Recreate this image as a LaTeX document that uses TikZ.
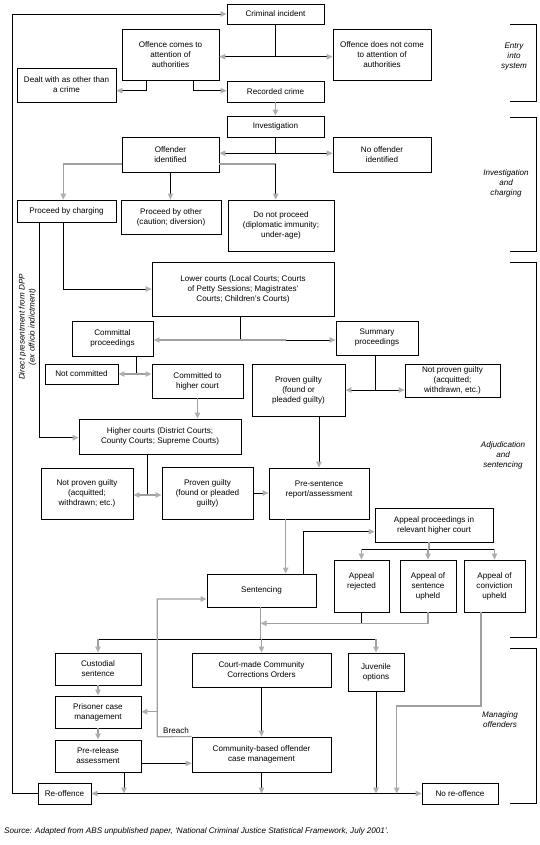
\documentclass[tikz,border=0pt]{standalone}
\usepackage{fontspec}
\setmainfont{Liberation Sans}
\usetikzlibrary{arrows.meta,calc}
\definecolor{gcol}{RGB}{160,160,160}
\definecolor{acol}{RGB}{175,175,175}
\newcommand\mybox[6]{%
  \pgfmathsetmacro\mybxcx{(#2+#4)/2}\pgfmathsetmacro\mybxcy{(#3+#5)/2}%
  \pgfmathsetmacro\mybxw{#4-#2}\pgfmathsetmacro\mybxh{#5-#3}%
  \node[box,minimum width=\mybxw pt,minimum height=\mybxh pt] (#1) at (\mybxcx,\mybxcy) {#6};}
\begin{document}
\begin{tikzpicture}[x=1pt,y=-1pt,
  box/.style={draw=black,line width=0.85pt,align=center,inner sep=0pt,font=\fontsize{8.1}{10}\selectfont},
  ln/.style={draw=black,line width=0.85pt},
  gline/.style={draw=gcol,line width=1.2pt},
  >={Triangle[length=6pt,width=5.5pt,color=acol]},
  side/.style={font=\fontsize{8.1}{10}\selectfont\itshape,align=center,inner sep=0pt},
  lbl/.style={font=\fontsize{8.1}{10}\selectfont,inner sep=0pt}]
\useasboundingbox (0,0) rectangle (539,845);
\fill[white] (0,0) rectangle (539,845);

% ---- nodes ----
\mybox{ci}{227}{4}{324}{24}{Criminal incident}
\mybox{oca}{122}{29}{219}{80}{Offence comes to\\attention of\\authorities}
\mybox{ond}{333}{29}{431}{80}{Offence does not come\\to attention of\\authorities}
\mybox{dw}{17}{68}{116}{102}{Dealt with as other than\\a crime}
\mybox{rc}{227}{81}{324}{102}{Recorded crime}
\mybox{inv}{227}{116}{324}{137}{Investigation}
\mybox{oi}{122}{137}{219}{172}{Offender\\identified}
\mybox{noi}{333}{137}{431}{172}{No offender\\identified}
\mybox{pbc}{17}{200}{116}{222}{Proceed by charging}
\mybox{pbo}{121}{200}{221}{234}{Proceed by other\\(caution; diversion)}
\mybox{dnp}{228}{200}{334}{251}{Do not proceed\\(diplomatic immunity;\\under-age)}
\mybox{lc}{152}{262}{334}{316}{Lower courts (Local Courts; Courts\\of Petty Sessions; Magistrates'\\Courts; Children's Courts)}
\mybox{cp}{72}{321}{153}{356}{Committal\\proceedings}
\mybox{sp}{336}{321}{418}{355}{Summary\\proceedings}
\mybox{nc}{45}{364}{118}{384}{Not committed}
\mybox{chc}{152}{364}{243}{398}{Committed to\\higher court}
\mybox{pga}{252}{364}{345}{416}{Proven guilty\\(found or\\pleaded guilty)}
\mybox{npga}{405}{364}{500}{397}{Not proven guilty\\(acquitted;\\withdrawn, etc.)}
\mybox{hc}{79}{419}{241}{454}{Higher courts (District Courts;\\County Courts; Supreme Courts)}
\mybox{npgb}{41}{468}{133}{519}{Not proven guilty\\(acquitted;\\withdrawn; etc.)}
\mybox{pgb}{162}{467}{253}{519}{Proven guilty\\(found or pleaded\\guilty)}
\mybox{psr}{269}{468}{369}{519}{Pre-sentence\\report/assessment\\~}
\mybox{apr}{375}{508}{493}{542}{Appeal proceedings in\\relevant higher court}
\mybox{sen}{207}{574}{316}{607}{Sentencing}
\mybox{arj}{334}{560}{389}{612}{Appeal\\rejected\\~}
\mybox{asu}{400}{560}{456}{612}{Appeal of\\sentence\\upheld}
\mybox{acu}{464}{560}{525}{612}{Appeal of\\conviction\\upheld}
\mybox{cs}{55}{653}{141}{685}{Custodial\\sentence}
\mybox{pcm}{55}{696}{141}{728}{Prisoner case\\management}
\mybox{pra}{55}{740}{141}{772}{Pre-release\\assessment}
\mybox{cmc}{192}{653}{331}{687}{Court-made Community\\Corrections Orders}
\mybox{cbo}{192}{737}{331}{772}{Community-based offender\\case management}
\mybox{juv}{348}{653}{404}{691}{Juvenile\\options}
\mybox{ro}{38}{783}{91}{804}{Re-offence}
\mybox{nro}{422}{783}{498}{804}{No re-offence}

% ---- junction coordinates ----
\coordinate (j1) at (275.5,56.7);
\coordinate (j2) at (146.7,90.7);
\coordinate (j3) at (193.3,90.7);
\coordinate (j4) at (275.5,153.3);
\coordinate (j5) at (63.3,164);
\coordinate (j6) at (275.7,164);
\coordinate (j7) at (63.3,289);
\coordinate (j8) at (39,437.7);
\coordinate (j9) at (240.7,340);
\coordinate (j9b) at (286,340);
\coordinate (j10) at (136.7,374);
\coordinate (j11) at (375.7,390);
\coordinate (j13) at (147.3,495);
\coordinate (j15) at (285.7,545);
\coordinate (j16) at (303.3,531.7);
\coordinate (j17) at (429,549);
\coordinate (j18) at (260.7,623.3);
\coordinate (j19) at (260.7,639.3);
\coordinate (b1) at (157.3,599);
\coordinate (b2) at (157.3,711.7);
\coordinate (b3) at (157.3,736.7);
\coordinate (j20) at (141,763.3);
\coordinate (j22) at (124,793.5);
\coordinate (c1) at (481,706);
\coordinate (c2) at (396.7,706);
\coordinate (l1) at (12.3,793.5);
\coordinate (l2) at (12.3,14);

% ---- connectors ----
\draw[ln] (ci.south) -- (j1);
\draw[ln,<->] (oca.east |- j1) -- (ond.west |- j1);
\draw[ln,->] (oca.south -| j2) -- (j2) -- (dw.east |- j2);
\draw[ln,->] (oca.south -| j3) -- (j3) -- (rc.west |- j3);
\draw[gline,->] (rc.south) -- (inv.north);
\draw[ln] (inv.south) -- (j4);
\draw[ln,<->] (oi.east |- j4) -- (noi.west |- j4);
\draw[gline,->] (oi.west |- j5) -- (j5) -- (j5 |- pbc.north);
\draw[ln,->] (oi.south) -- (oi.south |- pbo.north);
\draw[gline] (oi.east |- j6) -- (j6);
\draw[ln,->] (j6) -- (j6 |- dnp.north);
\draw[ln,->] (pbc.south -| j7) -- (j7) -- (lc.west |- j7);
\draw[ln,->] (pbc.south -| j8) -- (j8) -- (hc.west |- j8);
\draw[ln] (lc.south -| j9) -- (j9);
\draw[gline,->] (j9b) -- (cp.east |- j9);
\draw[ln,->] (j9b) -- (sp.west |- j9);
\draw[ln] (cp.south -| j10) -- (j10);
\draw[gline,<->] (nc.east |- j10) -- (chc.west |- j10);
\draw[gline,->] (chc.south) -- (chc.south |- hc.north);
\draw[ln] (sp.south -| j11) -- (j11);
\draw[ln,<->] (pga.east |- j11) -- (npga.west |- j11);
\draw[ln,->] (psr.north |- pga.south) -- (psr.north);
\draw[ln] (hc.south -| j13) -- (j13);
\draw[gline,<->] (npgb.east |- j13) -- (pgb.west |- j13);
\draw[ln,->] (pgb.east) -- (psr.west |- pgb.east);
\draw[gline,->] (psr.south -| j15) -- (sen.north -| j15);
\draw[ln,->] (sen.north -| j16) -- (j16) -- (apr.west |- j16);
\draw[gline] (apr.south -| j17) -- (j17);
\draw[ln] (arj.north |- j17) -- (acu.north |- j17);
\draw[gline,->] (arj.north |- j17) -- (arj.north);
\draw[gline,->] (asu.north |- j17) -- (asu.north);
\draw[gline,->] (acu.north |- j17) -- (acu.north);
\draw[ln] (arj.south) -- (arj.south |- j18);
\draw[gline,->] (asu.south) -- (asu.south |- j18) -- (j18);
\draw[gline] (sen.south -| j19) -- (j19);
\draw[ln] (cs.north |- j19) -- (juv.north |- j19);
\draw[gline,->] (cs.north |- j19) -- (cs.north);
\draw[gline,->] (cmc.north |- j19) -- (cmc.north);
\draw[gline,->] (juv.north |- j19) -- (juv.north);
\draw[gline,->] (cbo.north west) -- (b3) -- (b1) -- (sen.west |- b1);
\draw[gline,->] (b2) -- (pcm.east |- b2);
\draw[gline,->] (cs.south) -- (pcm.north);
\draw[gline,->] (pcm.south) -- (pra.north);
\draw[ln,->] (j20) -- (cbo.west |- j20);
\draw[ln,->] (cmc.south) -- (cbo.north);
\draw[ln,<->] (ro.east) -- (nro.west);
\draw[ln,->] (pra.south -| j22) -- (j22);
\draw[ln,->] (cbo.south) -- (cbo.south |- ro.east);
\draw[ln,->] (juv.south) -- (juv.south |- ro.east);
\draw[gline,->] (acu.south -| c1) -- (c1) -- (c2) -- (c2 |- nro.west);
\draw[ln,->] (ro.west) -- (l1) -- (l2) -- (ci.west);

\node[lbl,anchor=base west] (breach) at (163,733) {Breach};
\node[side,rotate=90] (dpp) at (27.5,327) {Direct presentment from DPP\\(ex officio indictment)};

% ---- stage brackets ----
\draw[ln] (510,24) -- (536,24) -- (536,101) -- (510,101);
\draw[ln] (510,117) -- (536,117) -- (536,251) -- (510,251);
\draw[ln] (510,262) -- (536,262) -- (536,637) -- (510,637);
\draw[ln] (510,648) -- (536,648) -- (536,803) -- (510,803);
\node[side] (s1) at (514,57) {Entry\\into\\system};
\node[side] (s2) at (506,183) {Investigation\\and\\charging};
\node[side] (s3) at (503,455) {Adjudication\\and\\sentencing};
\node[side] (s4) at (500,720) {Managing\\offenders};

\node[lbl,anchor=base west,font=\fontsize{8.1}{10}\selectfont\itshape] (src) at (4,833) {Source: Adapted from ABS unpublished paper, `National Criminal Justice Statistical Framework, July 2001'.};
\end{tikzpicture}
\end{document}
